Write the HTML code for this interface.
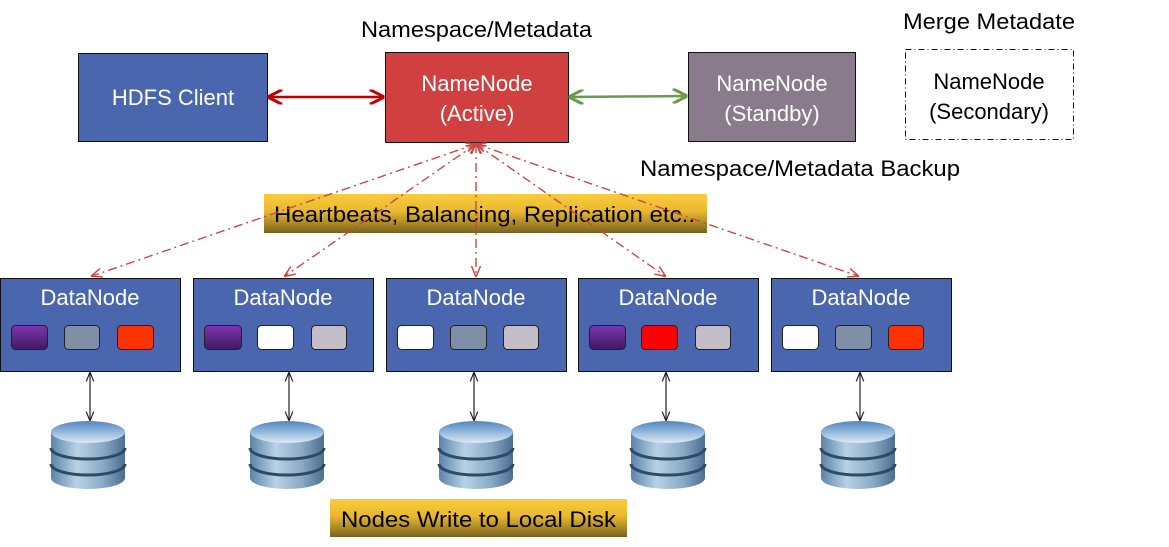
<!DOCTYPE html>
<html><head><meta charset="utf-8"><style>
html,body{margin:0;padding:0;background:#fff}
svg{display:block;font-family:"Liberation Sans",Arial,sans-serif}
</style></head><body>
<svg width="1169" height="547" viewBox="0 0 1169 547" xmlns="http://www.w3.org/2000/svg">
<defs>
<linearGradient id="gold" x1="0" y1="0" x2="0" y2="1">
<stop offset="0" stop-color="#FCCB3C"/><stop offset="0.45" stop-color="#E8B830"/><stop offset="1" stop-color="#7A6220"/>
</linearGradient>
<linearGradient id="purp" x1="0" y1="0" x2="0" y2="1">
<stop offset="0" stop-color="#7E35B0"/><stop offset="1" stop-color="#3E1A5E"/>
</linearGradient>
<linearGradient id="disk" x1="0" y1="0" x2="1" y2="0">
<stop offset="0" stop-color="#5A84A8"/><stop offset="0.35" stop-color="#B8D2E6"/><stop offset="0.7" stop-color="#8AAAC6"/><stop offset="1" stop-color="#4A6E90"/>
</linearGradient>
<linearGradient id="disktop" x1="0" y1="0" x2="0" y2="1">
<stop offset="0" stop-color="#4F86C0"/><stop offset="1" stop-color="#DCEAF6"/>
</linearGradient>
<marker id="ra" viewBox="0 0 10 10" refX="9" refY="5" markerWidth="6" markerHeight="6" orient="auto-start-reverse"><path d="M0,0L10,5L0,10" fill="none" stroke="#C00000" stroke-width="2"/></marker>
<marker id="ga" viewBox="0 0 10 10" refX="9" refY="5" markerWidth="6" markerHeight="6" orient="auto-start-reverse"><path d="M0,0L10,5L0,10" fill="none" stroke="#6A9A4A" stroke-width="2"/></marker>
<marker id="da" viewBox="0 0 10 10" refX="9" refY="5" markerWidth="8" markerHeight="8" orient="auto-start-reverse"><path d="M0,1L10,5L0,9" fill="none" stroke="#D04545" stroke-width="1.3"/></marker>
<marker id="ka" viewBox="0 0 10 10" refX="9" refY="5" markerWidth="8" markerHeight="8" orient="auto-start-reverse"><path d="M0,1L10,5L0,9" fill="none" stroke="#222" stroke-width="1.2"/></marker>
<g id="db">
<path d="M-37,0 v46 a37,11 0 0 0 74,0 v-46" fill="url(#disk)"/>
<path d="M-37,16 a37,11 0 0 0 74,0" fill="none" stroke="#2E4A66" stroke-width="3"/>
<path d="M-37,32 a37,11 0 0 0 74,0" fill="none" stroke="#2E4A66" stroke-width="3"/>
<ellipse cx="0" cy="0" rx="37" ry="11" fill="url(#disktop)"/>
</g>
</defs>

<text x="361" y="37" font-size="22" textLength="231" lengthAdjust="spacingAndGlyphs" fill="#000">Namespace/Metadata</text>
<text x="903" y="29" font-size="22" textLength="172" lengthAdjust="spacingAndGlyphs" fill="#000">Merge Metadate</text>
<text x="640" y="176" font-size="22" textLength="320" lengthAdjust="spacingAndGlyphs" fill="#000">Namespace/Metadata Backup</text>

<rect x="78.5" y="53.5" width="189" height="88" fill="#4A66AE" stroke="#111"/>
<text x="173" y="105" font-size="22" text-anchor="middle" fill="#fff">HDFS Client</text>
<rect x="385.5" y="52.5" width="183" height="90" fill="#D04040" stroke="#111"/>
<text x="477" y="91" font-size="22" text-anchor="middle" fill="#fff">NameNode</text>
<text x="477" y="121" font-size="22" text-anchor="middle" fill="#fff">(Active)</text>
<rect x="688.5" y="52.5" width="167" height="89" fill="#8A7B8C" stroke="#111"/>
<text x="772" y="91" font-size="22" text-anchor="middle" fill="#fff">NameNode</text>
<text x="772" y="121" font-size="22" text-anchor="middle" fill="#fff">(Standby)</text>
<rect x="905.5" y="49.5" width="168" height="90" fill="#fff" stroke="#111" stroke-dasharray="6,3,1,3"/>
<text x="989" y="89" font-size="22" text-anchor="middle" fill="#000">NameNode</text>
<text x="989" y="119" font-size="22" text-anchor="middle" fill="#000">(Secondary)</text>

<line x1="269" y1="97" x2="383" y2="97" stroke="#C00000" stroke-width="2.5" marker-start="url(#ra)" marker-end="url(#ra)"/>
<line x1="570" y1="97" x2="686" y2="96" stroke="#6A9A4A" stroke-width="2.5" marker-start="url(#ga)" marker-end="url(#ga)"/>

<rect x="264" y="194" width="443" height="39" fill="url(#gold)"/>
<text x="274" y="222" font-size="22" textLength="421" lengthAdjust="spacingAndGlyphs" fill="#000">Heartbeats, Balancing, Replication etc..</text>

<g stroke="#D04545" stroke-width="1.4" stroke-dasharray="9,4,2,4" fill="none" marker-start="url(#da)" marker-end="url(#da)">
<line x1="476" y1="144" x2="92" y2="276"/>
<line x1="476" y1="144" x2="285" y2="276"/>
<line x1="476" y1="144" x2="476" y2="276"/>
<line x1="476" y1="144" x2="665" y2="276"/>
<line x1="476" y1="144" x2="858" y2="276"/>
</g>

<g font-size="22" fill="#fff" text-anchor="middle">
<rect x="0.5" y="278.5" width="180" height="93" fill="#4A66AE" stroke="#111"/>
<text x="90" y="305">DataNode</text>
<rect x="193.5" y="278.5" width="180" height="93" fill="#4A66AE" stroke="#111"/>
<text x="283" y="305">DataNode</text>
<rect x="386.5" y="278.5" width="180" height="93" fill="#4A66AE" stroke="#111"/>
<text x="476" y="305">DataNode</text>
<rect x="578.5" y="278.5" width="180" height="93" fill="#4A66AE" stroke="#111"/>
<text x="668" y="305">DataNode</text>
<rect x="771.5" y="278.5" width="180" height="93" fill="#4A66AE" stroke="#111"/>
<text x="861" y="305">DataNode</text>
</g>
<g stroke="#222" stroke-width="1">
<rect x="11.5" y="325.5" width="36" height="24" rx="4" fill="url(#purp)"/>
<rect x="64.5" y="325.5" width="35" height="24" rx="4" fill="#7F8FA6"/>
<rect x="117.5" y="325.5" width="36" height="24" rx="4" fill="#FF3300"/>
<rect x="204.5" y="325.5" width="37" height="24" rx="4" fill="url(#purp)"/>
<rect x="257.5" y="325.5" width="36" height="24" rx="4" fill="#fff"/>
<rect x="311.5" y="325.5" width="35" height="24" rx="4" fill="#C4BCC6"/>
<rect x="397.5" y="325.5" width="36" height="24" rx="4" fill="#fff"/>
<rect x="450.5" y="325.5" width="36" height="24" rx="4" fill="#7F8FA6"/>
<rect x="503.5" y="325.5" width="35" height="24" rx="4" fill="#C4BCC6"/>
<rect x="589.5" y="325.5" width="36" height="24" rx="4" fill="url(#purp)"/>
<rect x="641.5" y="325.5" width="36" height="24" rx="4" fill="#FF0000"/>
<rect x="695.5" y="325.5" width="35" height="24" rx="4" fill="#C4BCC6"/>
<rect x="782.5" y="325.5" width="36" height="24" rx="4" fill="#fff"/>
<rect x="835.5" y="325.5" width="36" height="24" rx="4" fill="#7F8FA6"/>
<rect x="888.5" y="325.5" width="35" height="24" rx="4" fill="#FF3300"/>
</g>

<g stroke="#222" stroke-width="1.2" marker-start="url(#ka)" marker-end="url(#ka)">
<line x1="90" y1="373" x2="90" y2="420"/>
<line x1="289" y1="373" x2="289" y2="420"/>
<line x1="474" y1="373" x2="474" y2="420"/>
<line x1="666" y1="373" x2="666" y2="420"/>
<line x1="860" y1="373" x2="860" y2="420"/>
</g>
<use href="#db" x="88" y="432"/>
<use href="#db" x="287" y="432"/>
<use href="#db" x="476" y="432"/>
<use href="#db" x="668" y="432"/>
<use href="#db" x="858" y="432"/>

<rect x="330" y="499" width="297" height="38" fill="url(#gold)"/>
<text x="341" y="527" font-size="22" textLength="275" lengthAdjust="spacingAndGlyphs" fill="#000">Nodes Write to Local Disk</text>
</svg>
</body></html>
